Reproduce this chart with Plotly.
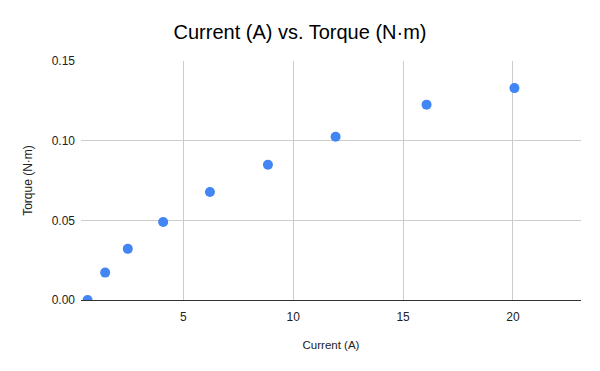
import plotly.graph_objects as go

current_a = [0.64, 1.44, 2.47, 4.08, 6.21, 8.85, 11.93, 16.07, 20.07]
torque_nm = [0.0, 0.0172, 0.0321, 0.0490, 0.0678, 0.0849, 0.1025, 0.1226, 0.1330]
x_ticks = [5, 10, 15, 20]
y_ticks = [0.0, 0.05, 0.10, 0.15]
y_tick_labels = ["0.00", "0.05", "0.10", "0.15"]

fig = go.Figure()
fig.add_trace(go.Scatter(
    x=current_a, y=torque_nm, mode="markers",
    marker=dict(color="#4285F4", size=10, line=dict(width=0)),
    cliponaxis=True, showlegend=False,
))

font = "Liberation Sans, Arial, sans-serif"
fig.update_layout(
    width=600, height=371,
    margin=dict(l=73, r=27, t=53, b=79, autoexpand=False),
    paper_bgcolor="white", plot_bgcolor="white",
    font=dict(family=font, color="#222222", size=12),
    title=dict(text="Current (A) vs. Torque (N·m)", x=0.4867, xanchor="center",
               y=0.935, yanchor="middle", font=dict(size=20, color="#000000")),
)
fig.update_xaxes(
    range=[0.34, 23.1], tickvals=x_ticks, showgrid=True, gridcolor="#cccccc",
    gridwidth=1, zeroline=False, showline=True, linecolor="#333333", linewidth=1,
    ticks="", ticklabelstandoff=6, automargin=False,
    title=dict(text="Current (A)", font=dict(size=11.5, color="#222222"), standoff=17),
)
fig.update_yaxes(
    range=[0, 0.15], tickvals=y_ticks, ticktext=y_tick_labels, showgrid=True,
    gridcolor="#cccccc", gridwidth=1, zeroline=False, showline=False,
    ticks="", ticklabelstandoff=5, automargin=False,
    title=dict(text="Torque (N·m)", font=dict(size=12, color="#222222"), standoff=16),
)
fig.write_html("out.html")
